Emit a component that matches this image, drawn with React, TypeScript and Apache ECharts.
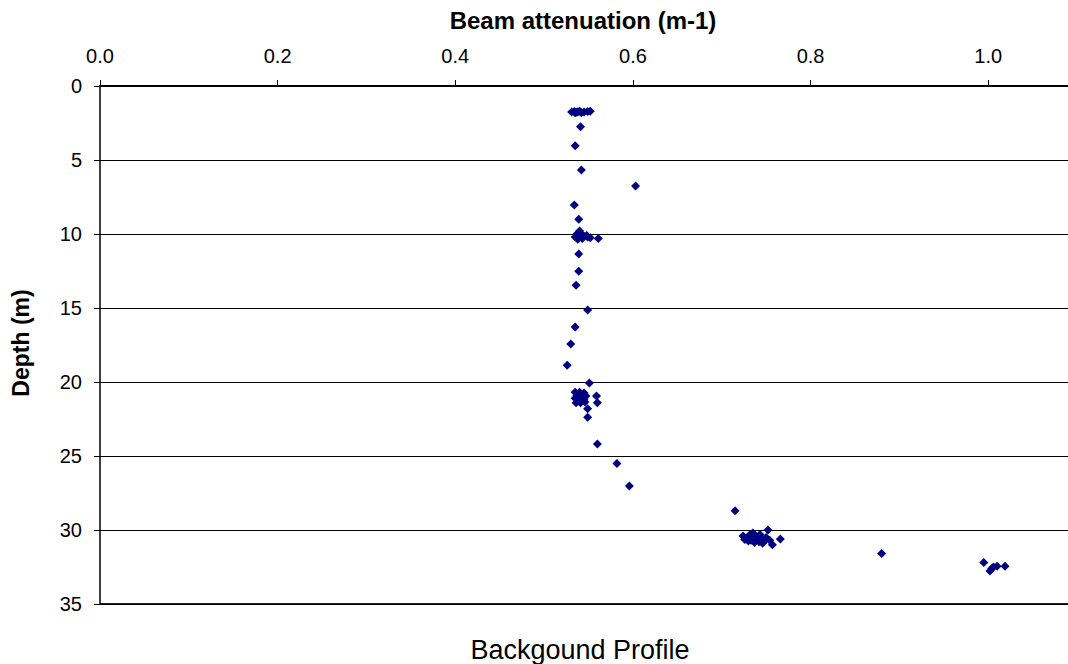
import React, { useEffect, useRef } from "react";
import * as echarts from "echarts";

// Beam attenuation (m-1) values and matching depths (m)
const attenuation: number[] = [
  0.531, 0.534, 0.537, 0.540, 0.542, 0.545, 0.549, 0.552, 0.538, 0.535,
  0.541, 0.535, 0.542, 0.603, 0.534, 0.539,
  0.540, 0.537, 0.542, 0.535, 0.540, 0.545, 0.549, 0.552, 0.538, 0.543, 0.548, 0.561,
  0.539, 0.539, 0.536, 0.549, 0.535, 0.530, 0.526, 0.551,
  0.535, 0.540, 0.545, 0.537, 0.542, 0.547, 0.535, 0.540, 0.545, 0.536, 0.541, 0.546, 0.538, 0.543,
  0.559, 0.560, 0.549, 0.549, 0.560, 0.582, 0.596, 0.715,
  0.724, 0.726, 0.729, 0.732, 0.735, 0.738, 0.740, 0.733, 0.743, 0.745,
  0.748, 0.737, 0.742, 0.750, 0.754, 0.752, 0.766, 0.757, 0.730, 0.746,
  0.880,
  0.995, 1.002, 1.006, 1.010, 1.019, 1.004,
];
const depth: number[] = [
  1.75, 1.72, 1.78, 1.70, 1.80, 1.75, 1.72, 1.70, 1.74, 1.80,
  2.75, 4.03, 5.68, 6.76, 8.04, 9.0,
  9.8, 10.0, 10.0, 10.2, 10.2, 10.15, 10.2, 10.25, 10.35, 10.3, 10.1, 10.3,
  11.35, 12.52, 13.47, 15.14, 16.28, 17.43, 18.87, 20.07,
  20.7, 20.7, 20.75, 20.9, 21.0, 20.95, 21.1, 21.2, 21.15, 21.4, 21.4, 21.35, 21.05, 21.25,
  20.95, 21.4, 21.8, 22.39, 24.19, 25.5, 27.03, 28.7,
  30.4, 30.65, 30.5, 30.3, 30.2, 30.4, 30.6, 30.7, 30.3, 30.55,
  30.75, 30.85, 30.8, 30.5, 30.7, 30.0, 30.6, 31.0, 30.75, 30.9,
  31.58,
  32.2, 32.77, 32.5, 32.45, 32.45, 32.6,
];

const xTitle = "Beam attenuation (m-1)";
const yTitle = "Depth (m)";
const chartTitle = "Backgound Profile";

const FONT = '"Liberation Sans", Arial, sans-serif';

export default function App() {
  const ref = useRef<HTMLDivElement>(null);
  useEffect(() => {
    document.body.style.margin = "0";
    if (!ref.current) return;
    const chart = echarts.init(ref.current, undefined, { renderer: "svg" });
    const points = attenuation.map((v, i) => [v, depth[i]]);
    chart.setOption({
      animation: false,
      backgroundColor: "#ffffff",
      textStyle: { fontFamily: FONT },
      grid: {
        left: 100,
        top: 86,
        height: 518,
        width: 977,
        containLabel: false,
        outerBoundsMode: "none",
      },
      xAxis: {
        type: "value",
        position: "top",
        min: 0,
        max: 1.1,
        interval: 0.2,
        axisLine: { show: true, lineStyle: { color: "#000", width: 2 } },
        axisTick: { show: true, length: 6, inside: false, lineStyle: { color: "#000", width: 1 } },
        axisLabel: {
          color: "#000",
          fontSize: 20,
          fontFamily: FONT,
          margin: 20,
          showMaxLabel: false,
          formatter: (v: number) => v.toFixed(1),
        },
        splitLine: { show: false },
      },
      yAxis: {
        type: "value",
        inverse: true,
        min: 0,
        max: 35,
        interval: 5,
        axisLine: { show: true, lineStyle: { color: "#000", width: 1.5 } },
        axisTick: { show: true, length: 6, lineStyle: { color: "#000", width: 1 } },
        axisLabel: { color: "#000", fontSize: 20, fontFamily: FONT, margin: 18 },
        splitLine: { show: true, lineStyle: { color: "#000", width: 1 } },
      },
      graphic: [
        {
          type: "text",
          x: 583,
          y: 20,
          style: {
            text: xTitle,
            font: `bold 24px ${FONT}`,
            fill: "#000",
            align: "center",
            verticalAlign: "middle",
          },
        },
        {
          type: "text",
          x: 21,
          y: 343,
          rotation: Math.PI / 2,
          style: {
            text: yTitle,
            font: `bold 23px ${FONT}`,
            fill: "#000",
            align: "center",
            verticalAlign: "middle",
          },
        },
        {
          type: "text",
          x: 580,
          y: 650,
          style: {
            text: chartTitle,
            font: `27px ${FONT}`,
            fill: "#000",
            align: "center",
            verticalAlign: "middle",
          },
        },
        {
          type: "line",
          shape: { x1: 100, y1: 604, x2: 1068, y2: 604 },
          style: { stroke: "#222", lineWidth: 2 },
        },
      ],
      series: [
        {
          type: "scatter",
          data: points,
          symbol: "diamond",
          symbolSize: 9,
          itemStyle: { color: "#000080", opacity: 1 },
        },
      ],
    });
    return () => chart.dispose();
  }, []);
  return <div ref={ref} style={{ width: 1068, height: 664 }} />;
}
